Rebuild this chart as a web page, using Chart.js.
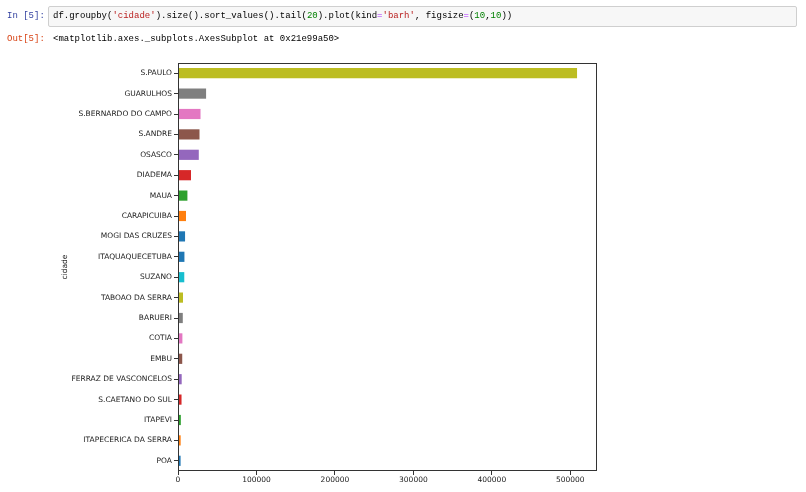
<!DOCTYPE html>
<html>
<head>
<meta charset="utf-8">
<script src="https://cdn.jsdelivr.net/npm/chart.js@4.4.1/dist/chart.umd.min.js"></script>
<style>
  html, body { margin: 0; padding: 0; background: #fff; width: 806px; height: 492px; overflow: hidden; }
  #wrap { position: relative; width: 806px; height: 492px; }
  #c { position: absolute; left: 0; top: 0; }
  .prompt { position: absolute; left: 7px; font-family: "Liberation Mono", "DejaVu Sans Mono", monospace; font-size: 9px; line-height: 12px; white-space: pre; }
  .in { top: 10px; color: #303F9F; }
  .out { top: 33px; color: #D84315; }
  #codebox { position: absolute; left: 48px; top: 6px; width: 749px; height: 21px; background: #f7f7f7; border: 1px solid #cfcfcf; border-radius: 2px; box-sizing: border-box; }
  .code { position: absolute; left: 53px; top: 10px; font-family: "Liberation Mono", "DejaVu Sans Mono", monospace; font-size: 9px; line-height: 12px; white-space: pre; color: #000; }
  .s { color: #BA2121; } .n { color: #008000; } .o { color: #AA22FF; }
  .outtxt { position: absolute; left: 53px; top: 33px; font-family: "Liberation Mono", "DejaVu Sans Mono", monospace; font-size: 9px; line-height: 12px; white-space: pre; color: #000; }
</style>
</head>
<body>
<div id="wrap">
  <canvas id="c" width="806" height="492"></canvas>
  <div id="codebox"></div>
  <div class="prompt in">In [5]:</div>
  <div class="code">df.groupby(<span class="s">'cidade'</span>).size().sort_values().tail(<span class="n">20</span>).plot(kind<span class="o">=</span><span class="s">'barh'</span>, figsize<span class="o">=</span>(<span class="n">10</span>,<span class="n">10</span>))</div>
  <div class="prompt out">Out[5]:</div>
  <div class="outtxt">&lt;matplotlib.axes._subplots.AxesSubplot at 0x21e99a50&gt;</div>
</div>
<script>
// Data (top to bottom as drawn)
const cidades = ["S.PAULO", "GUARULHOS", "S.BERNARDO DO CAMPO", "S.ANDRE", "OSASCO", "DIADEMA", "MAUA",
  "CARAPICUIBA", "MOGI DAS CRUZES", "ITAQUAQUECETUBA", "SUZANO", "TABOAO DA SERRA", "BARUERI", "COTIA",
  "EMBU", "FERRAZ DE VASCONCELOS", "S.CAETANO DO SUL", "ITAPEVI", "ITAPECERICA DA SERRA", "POA"];
const contagens = [508600, 35800, 28700, 27400, 26500, 16600, 12000,
  10200, 9000, 8200, 8000, 6400, 6100, 5600,
  5400, 4700, 4500, 3600, 3400, 3300];
const xTicks = [0, 100000, 200000, 300000, 400000, 500000];

// Styles
const barColors = ["#bcbd22", "#7f7f7f", "#e377c2", "#8c564b", "#9467bd", "#d62728", "#2ca02c",
  "#ff7f0e", "#1f77b4", "#1f77b4", "#17becf", "#bcbd22", "#7f7f7f", "#e377c2",
  "#8c564b", "#9467bd", "#d62728", "#2ca02c", "#ff7f0e", "#1f77b4"];
const txtColor = "#1a1a1a";
const axColor = "#333333";
const tickFont = { family: "'DejaVu Sans', sans-serif", size: 7.5 };

const frame = {
  id: 'frame',
  afterDraw(chart) {
    const a = chart.chartArea, ctx = chart.ctx;
    ctx.save();
    ctx.strokeStyle = axColor;
    ctx.lineWidth = 1;
    ctx.strokeRect(Math.round(a.left) + 0.5, Math.round(a.top) + 0.5,
      Math.round(a.right - a.left) - 1, Math.round(a.bottom - a.top) - 1);
    ctx.restore();
  }
};

new Chart(document.getElementById('c'), {
  type: 'bar',
  data: {
    labels: cidades,
    datasets: [{
      data: contagens,
      backgroundColor: barColors,
      borderWidth: 0,
      barPercentage: 0.5,
      categoryPercentage: 1.0
    }]
  },
  options: {
    indexAxis: 'y',
    responsive: false,
    animation: false,
    layout: { padding: { left: 61, top: 63, right: 209, bottom: 0 } },
    plugins: { legend: { display: false }, tooltip: { enabled: false } },
    scales: {
      x: {
        type: 'linear',
        min: 0,
        max: Math.max(...contagens) * 1.05,
        afterBuildTicks: s => { s.ticks = xTicks.map(v => ({ value: v })); },
        ticks: { font: tickFont, color: txtColor, padding: 1, maxRotation: 0,
          callback: v => String(v) },
        grid: { drawOnChartArea: false, tickLength: 4, tickColor: axColor, tickWidth: 1 },
        border: { display: false },
        afterFit: s => { s.height = 21; }
      },
      y: {
        ticks: { font: tickFont, color: txtColor, padding: 2, autoSkip: false },
        grid: { drawOnChartArea: false, tickLength: 4, tickColor: axColor, tickWidth: 1, offset: false },
        border: { display: false },
        title: { display: true, text: 'cidade', font: tickFont, color: txtColor, padding: 0 },
        afterFit: s => { s.width = 117; }
      }
    }
  },
  plugins: [frame]
});
</script>
</body>
</html>
